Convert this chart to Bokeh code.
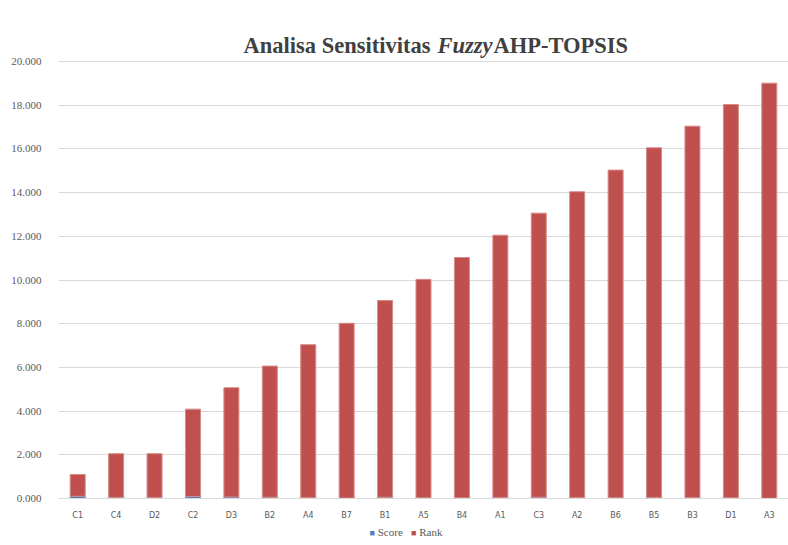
from bokeh.plotting import figure
from bokeh.models import (ColumnDataSource, FactorRange, FixedTicker, NumeralTickFormatter,
                          Label, Range1d, Div)
from bokeh.layouts import column
from bokeh.embed import file_html
from bokeh.resources import INLINE

categories = ["C1", "C4", "D2", "C2", "D3", "B2", "A4", "B7", "B1", "A5",
              "B4", "A1", "C3", "A2", "B6", "B5", "B3", "D1", "A3"]
score = [0.10, 0.05, 0.05, 0.09, 0.07, 0.06, 0.04, 0.02, 0.06, 0.03,
         0.03, 0.05, 0.06, 0.04, 0.03, 0.05, 0.04, 0.03, 0.01]
rank = [1, 2, 2, 4, 5, 6, 7, 8, 9, 10, 11, 12, 13, 14, 15, 16, 17, 18, 19]
y_ticks = [0, 2, 4, 6, 8, 10, 12, 14, 16, 18, 20]
series_names = ["Score", "Rank"]

BLUE = "#4F81BD"
RED = "#C0504D"
GREY_TXT = "#595959"

W, H = 788, 522                    # figure size; legend row sits below it
FL, FT, FB = 58, 20, 498           # frame left / top / bottom (canvas px)
PX_PER_UNIT = (FB - 61) / 20.0     # 20.000 gridline sits at y=61
BAND = (W - FL) / len(categories)

src = ColumnDataSource(dict(cat=categories, score=score, rank=rank))

p = figure(width=W, height=H, output_backend="svg", toolbar_location=None,
           x_range=FactorRange(factors=categories, range_padding=0),
           y_range=Range1d(0, (FB - FT) / PX_PER_UNIT),
           min_border_left=FL, min_border_right=0, min_border_top=FT,
           min_border_bottom=H - FB)

rs = p.vbar_stack(["score", "rank"], x="cat", width=0.39, color=[BLUE, RED],
                  line_color=["#6f97c9", "#d58b89"], line_width=1, source=src)

p.outline_line_color = None
p.xgrid.grid_line_color = None
p.ygrid.grid_line_color = "#d9d9d9"
p.ygrid.grid_line_width = 1

p.yaxis.ticker = FixedTicker(ticks=y_ticks)
p.yaxis.formatter = NumeralTickFormatter(format="0.000")
p.yaxis.axis_line_color = None
p.yaxis.major_tick_line_color = None
p.yaxis.minor_tick_line_color = None
p.yaxis.major_label_standoff = 11
p.yaxis.major_label_text_font = "Liberation Serif"
p.yaxis.major_label_text_font_size = "11px"
p.yaxis.major_label_text_color = GREY_TXT

p.xaxis.axis_line_color = "#d9d9d9"
p.xaxis.major_tick_line_color = None
p.xaxis.minor_tick_line_color = None
p.xaxis.major_label_standoff = 6
p.xaxis.major_label_text_font = "DejaVu Sans"
p.xaxis.major_label_text_font_size = "8px"
p.xaxis.major_label_text_color = GREY_TXT

title_parts = [("Analisa Sensitivitas", "bold", 243),
               ("Fuzzy", "bold italic", 437),
               ("AHP-TOPSIS", "bold", 493)]
for txt, style, xpos in title_parts:
    p.add_layout(Label(x=(xpos - FL) / BAND, y=(FB - 45) / PX_PER_UNIT,
                       x_units="data", y_units="data", text=txt,
                       text_font="Liberation Serif", text_font_style=style,
                       text_font_size="22.5px", text_color="#404040",
                       text_align="left", text_baseline="middle"))

legend_html = (
    '<div style="width:788px;box-sizing:border-box;padding-left:24px;padding-top:4px;'
    'text-align:center;font-family:\'Liberation Serif\';font-size:11px;color:%s;'
    'line-height:13px;white-space:nowrap;">'
    '<span style="color:%s;font-size:9px;">&#9632;</span>&nbsp;%s&nbsp;&nbsp;&nbsp;'
    '<span style="color:%s;font-size:9px;">&#9632;</span>&nbsp;%s</div>'
    % (GREY_TXT, BLUE, series_names[0], RED, series_names[1])
)
legend_div = Div(text=legend_html, width=W, height=545 - H, margin=0)

layout = column(p, legend_div, spacing=0)

open("out.html", "w").write(file_html(layout, INLINE))
